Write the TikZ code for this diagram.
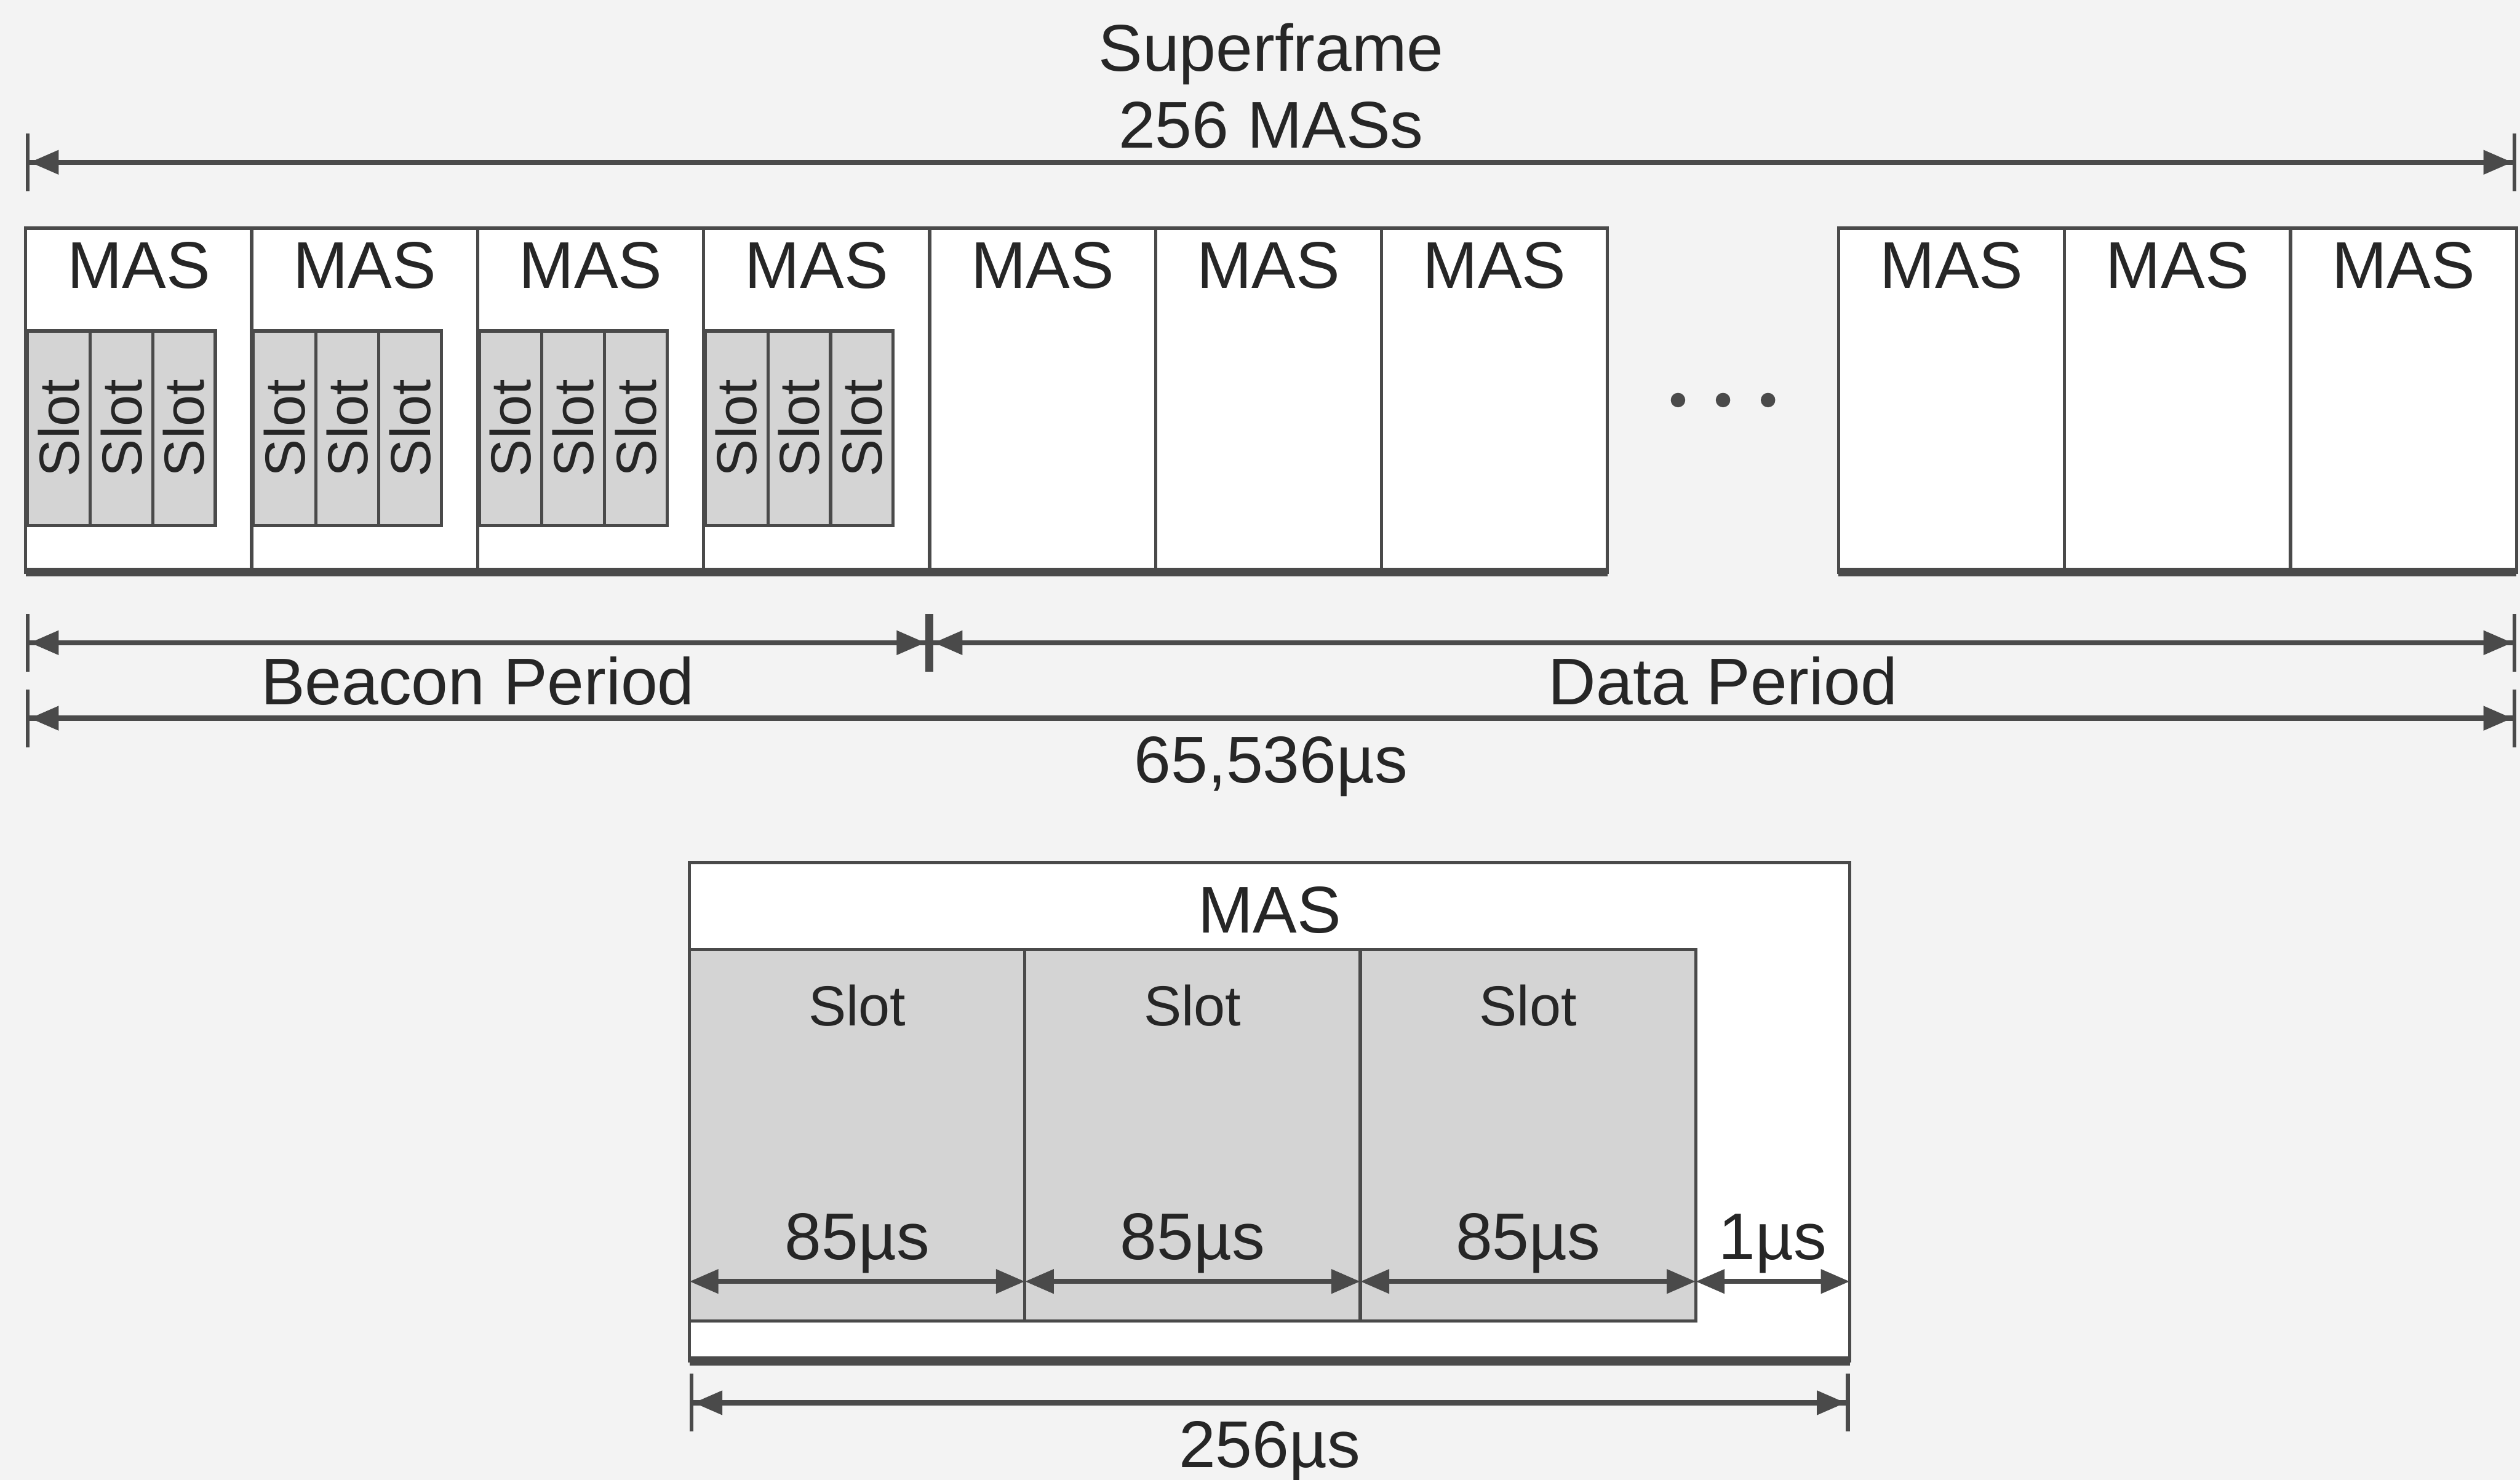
\documentclass[tikz,border=0pt]{standalone}
\usepackage{fontspec}
\setmainfont{Liberation Sans}
\usetikzlibrary{positioning,arrows.meta,calc}
\definecolor{boxline}{HTML}{4A4A4A}
\definecolor{slotgray}{HTML}{D4D4D4}
\definecolor{paper}{HTML}{F3F3F3}
\newcommand{\mainsize}{\fontsize{11.7pt}{13.6pt}\selectfont}
\newcommand{\slotsize}{\fontsize{10pt}{12pt}\selectfont}

\begin{document}
\begin{tikzpicture}[
    x=0.1mm, y=-0.1mm, font=\mainsize, text=black!85,
    mas/.style={draw=boxline, fill=white, line width=0.2mm, minimum width=14.06mm, minimum height=21.4mm, inner sep=0pt, outer sep=0pt},
    masname/.style={anchor=north, inner sep=0.8mm},
    slotv/.style={draw=boxline, fill=slotgray, line width=0.2mm, minimum width=12.1mm, minimum height=3.9mm, inner sep=0pt, rotate=90, font=\slotsize},
    slot/.style={draw=boxline, fill=slotgray, line width=0.2mm, minimum width=20.87mm, minimum height=23.1mm, inner sep=0pt, outer sep=0pt},
    slotname/.style={anchor=north, inner sep=2.1mm, font=\slotsize},
    shade/.style={draw=boxline, line width=0.55mm},
    dimtip/.tip={Triangle[length=1.8mm, width=1.45mm]},
    dimbar/.tip={Bar[width=3.6mm, line width=0.25mm]},
    meas/.style={draw=boxline, line width=0.32mm, {dimbar[]dimtip[]}-{dimtip[]dimbar[]}},
    seg/.style={draw=boxline, line width=0.32mm, {dimtip[]}-{dimtip[]}}
  ]
  \useasboundingbox (0,0) rectangle (1568,921);
  \fill[paper] (0,0) rectangle (1568,921);

  % superframe: first run of MAS blocks
  \node[mas, anchor=north west, label={[masname]north:MAS}] (m1) at (16,142) {};
  \foreach \i [remember=\i as \prev (initially 1)] in {2,...,7}
    \node[mas, right=0pt of m\prev, label={[masname]north:MAS}] (m\i) {};
  % last MAS blocks
  \node[mas, anchor=north west, label={[masname]north:MAS}] (m8) at (1144,142) {};
  \node[mas, right=0pt of m8, label={[masname]north:MAS}] (m9) {};
  \node[mas, right=0pt of m9, label={[masname]north:MAS}] (m10) {};
  \draw[shade] (m1.south west) -- (m7.south east);
  \draw[shade] (m8.south west) -- (m10.south east);

  % beacon slots
  \foreach \i in {1,...,4}
    \foreach \j in {1,2,3}
      \node[slotv] (s\i\j) at ($(m\i.north west)+({20.5+39*(\j-1)},124.5)$) {Slot};

  \foreach \k in {-28,0,28}
    \fill[boxline] ($(m7.east)!0.5!(m8.west)+(\k,0)$) circle (0.45mm);

  % spans
  \coordinate (sfl) at ([yshift=4.1mm]m1.north west);
  \coordinate (sfr) at ([yshift=4.1mm]m10.north east);
  \draw[meas] (sfl) -- node[above, align=center, inner sep=0.7mm] {Superframe\\256 MASs} (sfr);

  \coordinate (bpl) at ([yshift=-4.4mm]m1.south west);
  \coordinate (bpr) at ([yshift=-4.4mm]m4.south east);
  \coordinate (dpr) at ([yshift=-4.4mm]m10.south east);
  \draw[meas] (bpl) -- node[below, inner sep=0.7mm] {Beacon Period} (bpr);
  \draw[meas] (bpr) -- node[below, inner sep=0.7mm] {Data Period} (dpr);

  \coordinate (sdl) at ([yshift=-9.1mm]m1.south west);
  \coordinate (sdr) at ([yshift=-9.1mm]m10.south east);
  \draw[meas] (sdl) -- node[below, inner sep=1mm] {65,536µs} (sdr);

  % one MAS in detail
  \node[mas, minimum width=72.2mm, minimum height=31mm, anchor=north west,
    label={[masname, inner sep=1.4mm]north:MAS}] (mas) at (429,537) {};
  \draw[shade] (mas.south west) -- (mas.south east);
  \node[slot, anchor=north west, label={[slotname]north:Slot}] (t1) at (429,591) {};
  \node[slot, right=0pt of t1, label={[slotname]north:Slot}] (t2) {};
  \node[slot, right=0pt of t2, label={[slotname]north:Slot}] (t3) {};

  \foreach \t in {t1,t2,t3}
    \draw[seg] ([yshift=2.45mm]\t.south west) -- node[anchor=base, yshift=1.35mm] {85µs} ([yshift=2.45mm]\t.south east);
  \coordinate (gl) at ([yshift=2.45mm]t3.south east);
  \coordinate (gr) at (mas.east |- gl);
  \draw[seg] (gl) -- node[anchor=base, yshift=1.35mm] {1µs} (gr);

  \coordinate (ml) at ([yshift=-2.6mm]mas.south west);
  \coordinate (mr) at ([yshift=-2.6mm]mas.south east);
  \draw[meas] (ml) -- node[below, inner sep=1mm] {256µs} (mr);
\end{tikzpicture}
\end{document}
